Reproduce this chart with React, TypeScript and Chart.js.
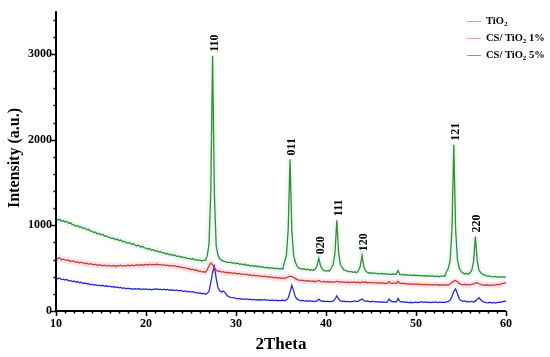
import React, { useEffect, useRef } from "react";
import { Chart, registerables } from "chart.js";

Chart.register(...registerables);

// 2Theta sampling grid: 10 .. 60 in 0.2 degree steps
const thetaStart = 10;
const thetaStep = 0.2;

// Intensities (a.u.), 5 samples per degree
const tio2 = [
  1075, 1062, 1070, 1048, 1055,
  1040, 1046, 1022, 1030, 1012,
  1005, 990, 998, 978, 984,
  962, 970, 948, 955, 936,
  930, 915, 922, 900, 906,
  890, 895, 872, 880, 862,
  858, 846, 852, 832, 840,
  822, 828, 808, 815, 796,
  792, 798, 776, 784, 766,
  762, 768, 748, 755, 738,
  735, 722, 730, 710, 716,
  700, 706, 688, 694, 678,
  682, 666, 672, 655, 662,
  648, 654, 636, 643, 628,
  634, 620, 626, 610, 617,
  604, 612, 596, 602, 588,
  596, 584, 590, 590, 640,
  780, 1400, 2980, 1350, 760,
  650, 610, 590, 582, 575,
  570, 564, 570, 558, 564,
  552, 558, 546, 550, 540,
  545, 532, 538, 526, 532,
  520, 528, 515, 522, 510,
  516, 505, 512, 500, 507,
  498, 504, 494, 500, 490,
  496, 488, 575, 650, 950,
  1770, 950, 650, 570, 520,
  500, 494, 488, 495, 482,
  488, 476, 482, 472, 490,
  525, 615, 525, 488, 472,
  465, 472, 470, 505, 543,
  682, 1060, 682, 543, 505,
  480, 470, 466, 458, 462,
  452, 458, 446, 470, 519,
  650, 519, 470, 450, 444,
  446, 438, 444, 436, 440,
  434, 440, 430, 436, 428,
  432, 426, 434, 424, 430,
  470, 428, 422, 428, 418,
  424, 416, 422, 414, 420,
  412, 418, 410, 416, 408,
  414, 406, 412, 404, 410,
  408, 402, 410, 400, 406,
  410, 404, 462, 500, 600,
  960, 1940, 960, 600, 500,
  462, 445, 432, 438, 430,
  447, 475, 582, 870, 582,
  475, 447, 430, 418, 412,
  405, 410, 402, 398, 404,
  396, 402, 394, 400, 392,
  398,
];

const cs1 = [
  627, 610, 622, 598, 606,
  598, 588, 596, 578, 585,
  580, 568, 576, 560, 570,
  562, 552, 560, 545, 553,
  548, 538, 546, 532, 540,
  536, 528, 538, 524, 532,
  530, 522, 534, 520, 528,
  526, 535, 522, 532, 526,
  534, 526, 538, 528, 536,
  540, 530, 542, 532, 540,
  545, 535, 546, 538, 544,
  540, 548, 536, 544, 534,
  540, 530, 536, 526, 532,
  524, 530, 516, 522, 508,
  512, 500, 506, 492, 496,
  482, 488, 474, 478, 464,
  468, 456, 460, 452, 480,
  525, 560, 540, 500, 478,
  462, 468, 455, 460, 448,
  452, 444, 450, 438, 445,
  440, 432, 438, 426, 432,
  424, 430, 418, 424, 412,
  418, 410, 416, 404, 410,
  400, 406, 396, 402, 392,
  398, 388, 394, 384, 390,
  380, 386, 378, 390, 400,
  406, 402, 392, 378, 366,
  360, 354, 360, 350, 356,
  348, 354, 344, 350, 342,
  348, 356, 344, 340, 346,
  338, 344, 336, 342, 334,
  340, 348, 338, 342, 334,
  340, 332, 338, 330, 336,
  334, 340, 330, 336, 328,
  342, 334, 338, 330, 334,
  328, 334, 326, 330, 324,
  330, 324, 328, 320, 326,
  340, 326, 322, 328, 320,
  344, 326, 320, 324, 316,
  320, 314, 318, 312, 316,
  310, 316, 308, 312, 306,
  312, 306, 310, 302, 308,
  304, 310, 300, 306, 302,
  306, 300, 308, 304, 318,
  332, 348, 356, 342, 322,
  312, 306, 312, 304, 310,
  306, 312, 318, 326, 330,
  318, 308, 304, 300, 306,
  302, 298, 304, 300, 306,
  310, 306, 314, 320, 326,
  330,
];

const cs5 = [
  390, 376, 384, 366, 372,
  362, 368, 352, 358, 344,
  350, 338, 344, 330, 336,
  322, 328, 316, 320, 308,
  312, 302, 308, 296, 302,
  294, 300, 288, 294, 284,
  290, 280, 286, 274, 280,
  270, 276, 264, 270, 260,
  266, 258, 262, 254, 260,
  256, 262, 250, 258, 252,
  258, 250, 256, 248, 256,
  252, 260, 250, 256, 248,
  254, 246, 252, 242, 248,
  244, 238, 246, 236, 240,
  236, 230, 234, 224, 228,
  220, 226, 214, 218, 206,
  212, 202, 206, 196, 204,
  230, 330, 450, 520, 380,
  270, 235, 222, 232, 212,
  180, 168, 160, 156, 152,
  148, 142, 146, 138, 142,
  136, 142, 134, 138, 130,
  136, 128, 134, 126, 132,
  128, 134, 124, 130, 122,
  128, 122, 126, 120, 124,
  122, 128, 120, 130, 152,
  220, 300, 235, 165, 138,
  126, 120, 124, 116, 120,
  114, 120, 112, 116, 110,
  118, 138, 120, 112, 116,
  110, 114, 108, 112, 118,
  138, 178, 140, 118, 112,
  114, 108, 112, 106, 110,
  112, 118, 110, 116, 130,
  140, 122, 114, 118, 110,
  108, 114, 106, 110, 104,
  108, 102, 106, 100, 104,
  140, 118, 106, 110, 104,
  145, 114, 104, 108, 100,
  104, 98, 102, 96, 100,
  104, 98, 102, 108, 100,
  106, 100, 104, 98, 102,
  100, 106, 98, 104, 100,
  104, 98, 106, 112, 128,
  170, 230, 258, 200, 145,
  122, 112, 118, 108, 112,
  106, 112, 104, 118, 135,
  155, 130, 112, 104, 98,
  96, 102, 94, 100, 92,
  98, 104, 100, 108, 112,
  116,
];

const seriesLabels = ["TiO₂", "CS/ TiO₂ 1%", "CS/ TiO₂ 5%"];
const seriesColors = ["#3c8a2c", "#c04628", "#2828d8"];
const glowColors = ["rgba(170,240,230,0.25)", "rgba(255,170,210,0.35)", "rgba(0,0,0,0)"];
const legendLineColors = ["#9cc69a", "#d2ad97", "#8a8ae6"];

// Peak annotations (Miller indices) on the TiO2 pattern
const peakHkl = ["110", "011", "020", "111", "120", "121", "220"];
const peakTheta = [27.4, 36.0, 39.2, 41.2, 44.0, 54.2, 56.6];
const peakTop = [2980, 1770, 615, 1060, 650, 1940, 870];

const xMin = 10;
const xMax = 60;
const xMajor = 10;
const xMinor = 1;
const yMin = 0;
const yMax = 3500;
const yTickValues = [0, 1000, 2000, 3000];
const yMinor = 200;

const FONT = '"Liberation Serif", "Times New Roman", serif';

function toPoints(values: number[]) {
  return values.map((v, i) => ({ x: thetaStart + i * thetaStep, y: v }));
}

function drawSubText(ctx: CanvasRenderingContext2D, text: string, x: number, y: number, size: number) {
  const parts = text.split("₂");
  let cx = x;
  parts.forEach((p, i) => {
    ctx.font = `bold ${size}px ${FONT}`;
    ctx.fillText(p, cx, y);
    cx += ctx.measureText(p).width;
    if (i < parts.length - 1) {
      ctx.font = `bold ${Math.round(size * 0.65)}px ${FONT}`;
      ctx.fillText("2", cx, y + size * 0.3);
      cx += ctx.measureText("2").width;
    }
  });
}

const decorPlugin = {
  id: "decor",
  afterDraw(chart: any) {
    const { ctx, chartArea: ca, scales } = chart;
    const xs = scales.x;
    const ys = scales.y;
    ctx.save();
    ctx.strokeStyle = "#000";
    ctx.fillStyle = "#000";

    // axis lines
    ctx.lineWidth = 2;
    ctx.beginPath();
    ctx.moveTo(ca.left, ca.top);
    ctx.lineTo(ca.left, ca.bottom);
    ctx.lineTo(ca.right, ca.bottom);
    ctx.stroke();

    // ticks
    ctx.lineWidth = 1.5;
    for (let v = yMin; v < yMax; v += yMinor) {
      const py = Math.round(ys.getPixelForValue(v)) + 0.5;
      const len = v % 1000 === 0 ? 5 : 2.5;
      ctx.beginPath();
      ctx.moveTo(ca.left - len, py);
      ctx.lineTo(ca.left, py);
      ctx.stroke();
    }
    for (let v = xMin; v <= xMax; v += xMinor) {
      const px = Math.round(xs.getPixelForValue(v)) + 0.5;
      const len = v % xMajor === 0 ? 5 : 2.5;
      ctx.beginPath();
      ctx.moveTo(px, ca.bottom);
      ctx.lineTo(px, ca.bottom + len);
      ctx.stroke();
    }

    // axis titles
    ctx.font = `bold 16px ${FONT}`;
    ctx.textAlign = "center";
    ctx.textBaseline = "middle";
    ctx.save();
    ctx.translate(15, 158);
    ctx.rotate(-Math.PI / 2);
    ctx.fillText("Intensity (a.u.)", 0, 0);
    ctx.restore();
    ctx.font = `bold 17px ${FONT}`;
    ctx.fillText("2Theta", (ca.left + ca.right) / 2, 345);

    // peak labels
    ctx.font = `bold 12px ${FONT}`;
    ctx.textAlign = "left";
    ctx.textBaseline = "middle";
    peakHkl.forEach((lab, i) => {
      const px = xs.getPixelForValue(peakTheta[i]) + 2;
      const py = ys.getPixelForValue(peakTop[i]) - 4;
      ctx.save();
      ctx.translate(px, py);
      ctx.rotate(-Math.PI / 2);
      ctx.fillText(lab, 0, 0);
      ctx.restore();
    });

    // legend
    ctx.textAlign = "left";
    ctx.textBaseline = "middle";
    seriesLabels.forEach((lab, i) => {
      const ly = 21 + i * 17;
      ctx.strokeStyle = legendLineColors[i];
      ctx.lineWidth = 1;
      ctx.beginPath();
      ctx.moveTo(467, ly + 0.5);
      ctx.lineTo(481, ly + 0.5);
      ctx.stroke();
      ctx.fillStyle = "#000";
      drawSubText(ctx, lab, 486, ly, 10.5);
    });
    ctx.restore();
  },
};

export default function App() {
  const ref = useRef<HTMLCanvasElement | null>(null);
  useEffect(() => {
    document.body.style.margin = "0";
    const canvas = ref.current;
    if (!canvas) return;
    const series = [tio2, cs1, cs5];
    const glow = series.map((s, i) => ({
      label: seriesLabels[i] + " glow",
      data: toPoints(s),
      borderColor: glowColors[i],
      borderWidth: 6,
      pointRadius: 0,
      tension: 0,
      fill: false,
      order: 10,
    }));
    const lines = series.map((s, i) => ({
      label: seriesLabels[i],
      data: toPoints(s),
      borderColor: seriesColors[i],
      borderWidth: 1.3,
      pointRadius: 0,
      tension: 0,
      fill: false,
      order: i,
    }));
    const chart = new Chart(canvas, {
      type: "line",
      data: { datasets: [...lines, ...glow] },
      options: {
        responsive: false,
        animation: false,
        events: [],
        layout: { padding: { top: 10, right: 44, left: 0, bottom: 0 } },
        plugins: { legend: { display: false }, tooltip: { enabled: false } },
        scales: {
          x: {
            type: "linear",
            min: xMin,
            max: xMax,
            grid: { display: false, drawTicks: false },
            border: { display: false },
            ticks: {
              stepSize: xMajor,
              maxRotation: 0,
              autoSkip: false,
              color: "#000",
              padding: 6,
              font: { family: FONT, size: 12, weight: "bold" },
              callback: (v: any) => String(v),
            },
            afterFit: (s: any) => {
              s.height = 46;
            },
          },
          y: {
            type: "linear",
            min: yMin,
            max: yMax,
            grid: { display: false, drawTicks: false },
            border: { display: false },
            afterBuildTicks: (s: any) => {
              s.ticks = yTickValues.map((v) => ({ value: v }));
            },
            ticks: {
              color: "#000",
              padding: 4,
              font: { family: FONT, size: 12, weight: "bold" },
              callback: (v: any) => String(v),
            },
            afterFit: (s: any) => {
              s.width = 56;
            },
          },
        },
      },
      plugins: [decorPlugin],
    });
    return () => chart.destroy();
  }, []);
  return <canvas ref={ref} width={550} height={357} style={{ display: "block" }} />;
}
